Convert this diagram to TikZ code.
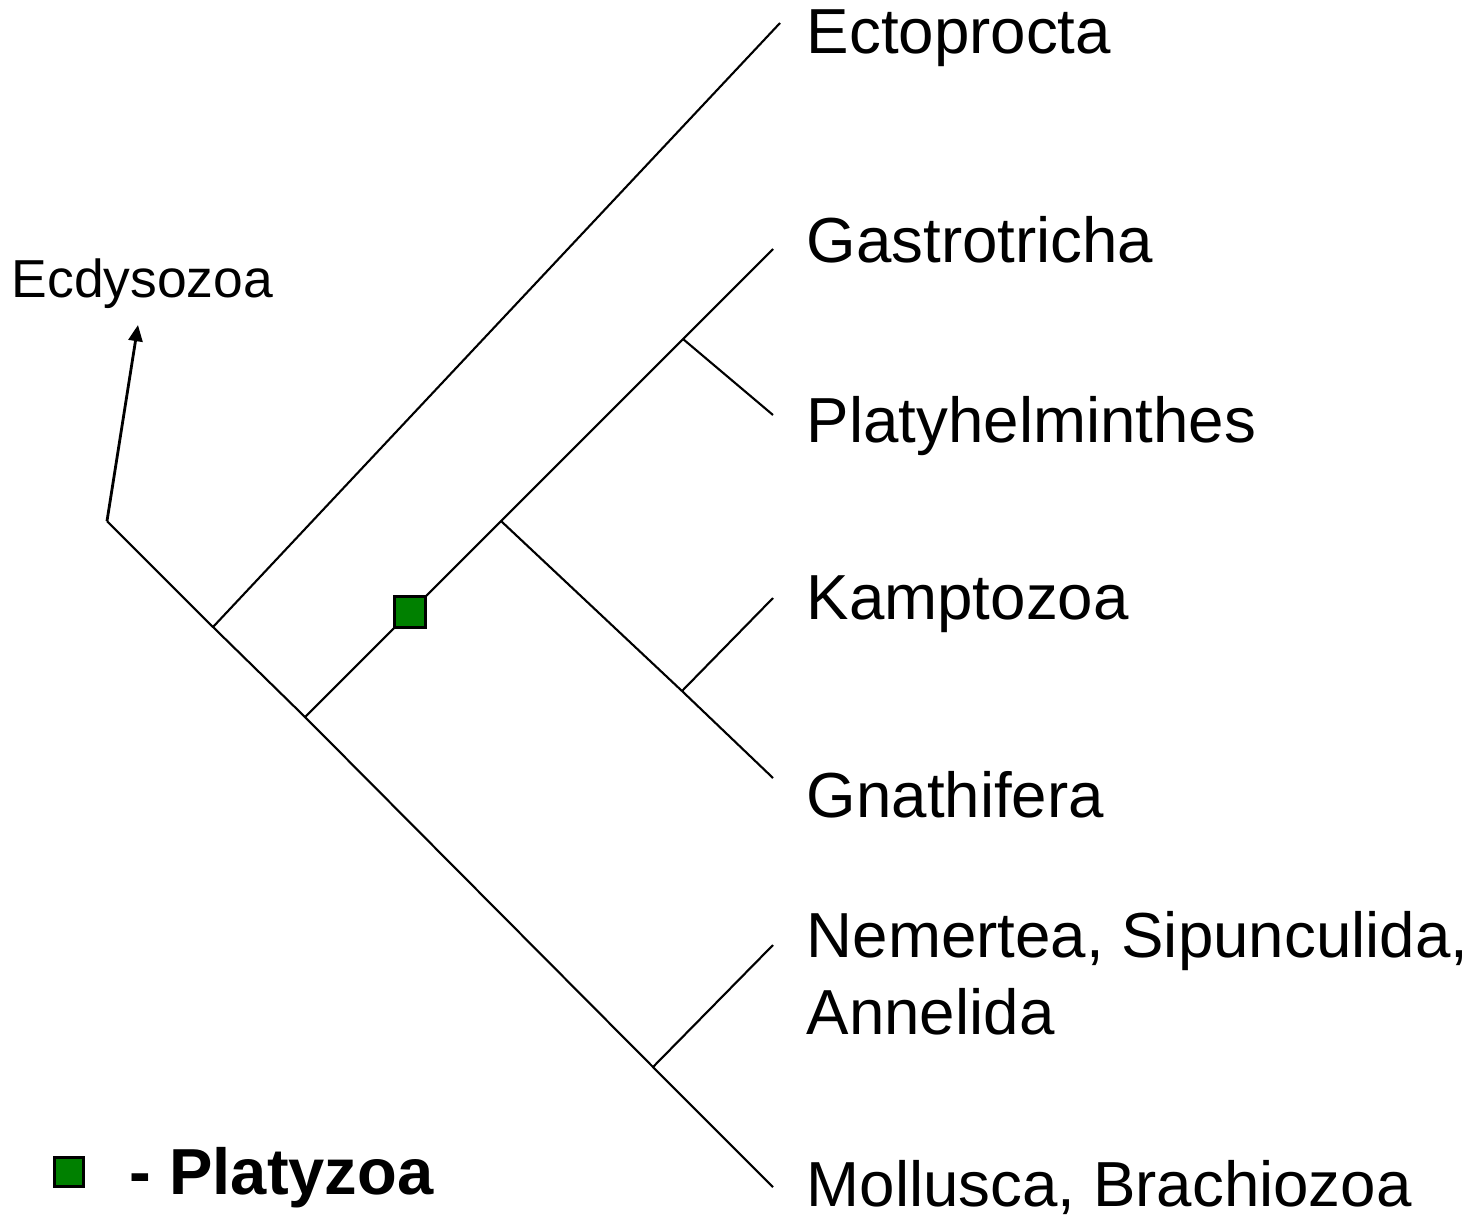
\documentclass[tikz,border=0pt]{standalone}
\usepackage{fontspec}
\setmainfont{Liberation Sans}
\usetikzlibrary{arrows.meta}
\definecolor{platygreen}{HTML}{008000}
\begin{document}
\begin{tikzpicture}[
    x=0.01cm, y=-0.01cm,
    branch/.style={draw, line width=0.6pt},
    pointer/.style={draw, line width=0.8pt, -{Triangle[length=4.6pt, width=4pt]}},
    taxon/.style={anchor=base west, inner sep=0pt, align=left,
                  font=\fontsize{18.1}{21.9}\selectfont},
    marker/.style={draw, fill=platygreen, line width=0.7pt,
                   minimum size=0.31cm, inner sep=0pt},
]
\useasboundingbox (0,0) rectangle (1474,1215);
\coordinate (root) at (107,521);
\coordinate (nEcto) at (213,627);
\coordinate (nLopho) at (305,717);
\coordinate (nGnath) at (501,521);
\coordinate (nPlaty) at (683,339);
\coordinate (nKampt) at (682,691);
\coordinate (nNem) at (653,1067);
\coordinate (lEcto) at (780,23);
\coordinate (lGast) at (773,249);
\coordinate (lPlaty) at (773,415);
\coordinate (lKampt) at (773,598);
\coordinate (lGnath) at (773,778);
\coordinate (lNem) at (773,945);
\coordinate (lMoll) at (773,1187);
\coordinate (ecdyTip) at (138,325);

\node[taxon] (ecto) at (806,54) {Ectoprocta};
\node[taxon] (gast) at (806,262) {Gastrotricha};
\node[taxon] (platy) at (806,442) {Platyhelminthes};
\node[taxon] (kampt) at (806,619) {Kamptozoa};
\node[taxon] (gnath) at (806,817) {Gnathifera};
\node[taxon] (nem) at (806,1034) {Nemertea, Sipunculida,\\Annelida};
\node[taxon] (moll) at (806,1206) {Mollusca, Brachiozoa};
\node[taxon, font=\fontsize{15.2}{17}\selectfont] (ecdy) at (11,297) {Ecdysozoa};
\node[taxon, font=\fontsize{18.5}{21.9}\selectfont\bfseries] (legend) at (129,1194) {- Platyzoa};

\draw[branch] (root) -- (nEcto) -- (nLopho) -- (nNem) -- (lMoll);
\draw[branch] (nEcto) -- (lEcto);
\draw[branch] (nLopho) -- (nGnath) -- (nPlaty) -- (lGast);
\draw[branch] (nPlaty) -- (lPlaty);
\draw[branch] (nGnath) -- (nKampt) -- (lGnath);
\draw[branch] (nKampt) -- (lKampt);
\draw[branch] (nNem) -- (lNem);
\draw[pointer] (root) -- (ecdyTip);

\node[marker] (apo) at (410,612) {};
\node[marker, minimum size=0.29cm] (key) at (69,1172) {};
\end{tikzpicture}
\end{document}
